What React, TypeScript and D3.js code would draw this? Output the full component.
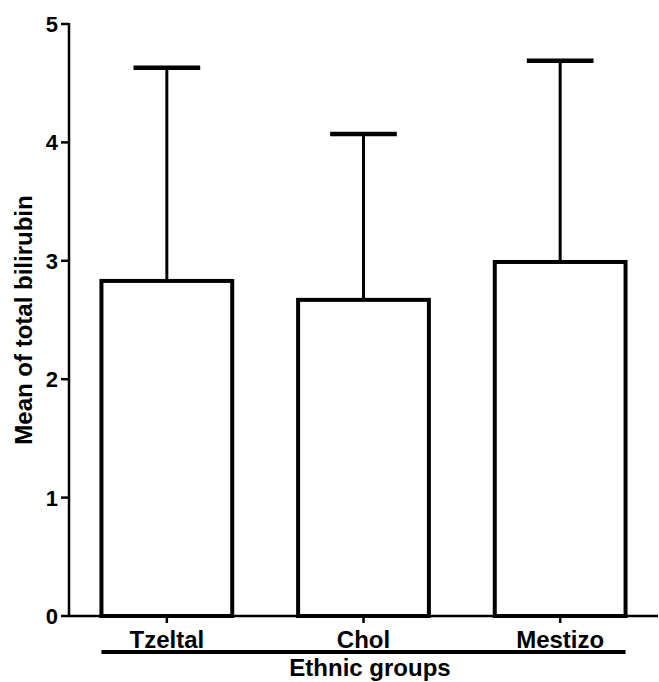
import React from "react"
import { scaleBand, scaleLinear } from "d3"

const groups = ["Tzeltal", "Chol", "Mestizo"]
const means = [2.83, 2.67, 2.99]
const upper = [4.63, 4.07, 4.69]
const yTicks = [0, 1, 2, 3, 4, 5]

const width = 659
const height = 682
const font = "'Liberation Sans', Arial, sans-serif"

const x0 = 69
const x1 = 658
const yBottom = 616
const yTop = 24

function App() {
  const xScale = scaleBand<string>()
    .domain(groups)
    .range([x0, x1])
    .paddingInner(0.335)
    .paddingOuter(0.165)

  const yScale = scaleLinear().domain([0, 5]).range([yBottom, yTop])

  const bw = xScale.bandwidth()
  const capW = bw * 0.51
  const firstX = xScale(groups[0]) as number
  const lastX = (xScale(groups[groups.length - 1]) as number) + bw

  return (
    <svg
      width={width}
      height={height}
      style={{ position: "absolute", left: 0, top: 0, background: "#fff" }}
      fontFamily={font}
      fontWeight="bold"
    >
      {/* error bars first so the bar outline sits on top */}
      {groups.map((g, i) => {
        const cx = (xScale(g) as number) + bw / 2
        return (
          <g key={"err" + g}>
            <line x1={cx} x2={cx} y1={yScale(means[i])} y2={yScale(upper[i])} stroke="#000" strokeWidth={3} />
            <line x1={cx - capW / 2} x2={cx + capW / 2} y1={yScale(upper[i])} y2={yScale(upper[i])} stroke="#000" strokeWidth={4.5} />
          </g>
        )
      })}
      {groups.map((g, i) => (
        <rect
          key={"bar" + g}
          x={xScale(g)}
          y={yScale(means[i])}
          width={bw}
          height={yBottom - yScale(means[i])}
          fill="#fff"
          stroke="#000"
          strokeWidth={4}
        />
      ))}

      {/* y axis */}
      <line x1={x0} x2={x0} y1={yScale(5) - 1} y2={yBottom} stroke="#000" strokeWidth={2.5} />
      {yTicks.map(t => (
        <g key={t} transform={`translate(0, ${yScale(t)})`}>
          <line x1={x0 - 8} x2={x0} stroke="#000" strokeWidth={2.5} />
          <text x={58} dy="0.36em" textAnchor="end" fontSize={22}>{t}</text>
        </g>
      ))}

      {/* x axis */}
      <line x1={x0} x2={x1} y1={yBottom} y2={yBottom} stroke="#000" strokeWidth={2.5} />
      {groups.map(g => {
        const cx = (xScale(g) as number) + bw / 2
        return (
          <g key={"tick" + g} transform={`translate(${cx}, ${yBottom})`}>
            <line y2={7} stroke="#000" strokeWidth={2.5} />
            <text y={32} textAnchor="middle" fontSize={24}>{g}</text>
          </g>
        )
      })}
      <line x1={firstX} x2={lastX} y1={652} y2={652} stroke="#000" strokeWidth={4} />
      <text x={370} y={676} textAnchor="middle" fontSize={24}>Ethnic groups</text>

      <text
        transform={`translate(32, ${(yTop + yBottom) / 2}) rotate(-90)`}
        textAnchor="middle"
        fontSize={24}
      >Mean of total bilirubin</text>
    </svg>
  )
}

export default App
